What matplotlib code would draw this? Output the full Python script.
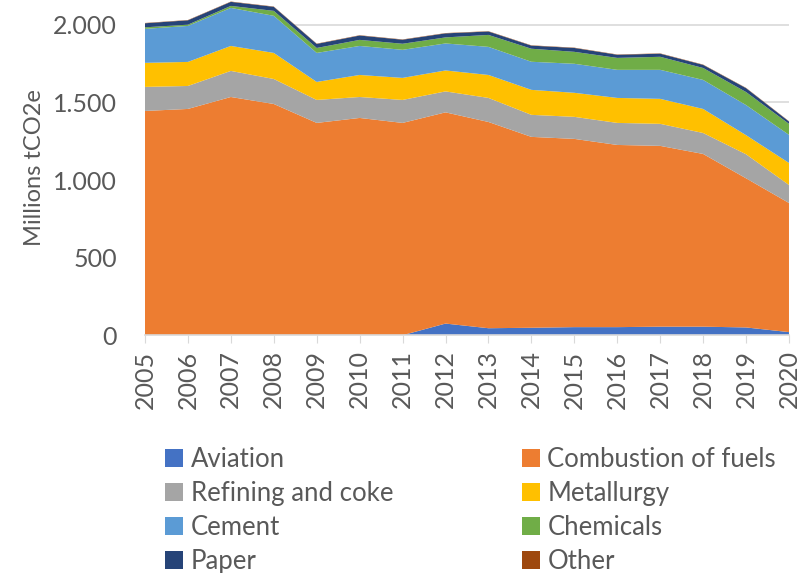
import matplotlib.pyplot as plt
from matplotlib.patches import Patch

plt.rcParams['font.family'] = ['Lato', 'DejaVu Sans']

years = list(range(2005, 2021))
aviation = [0, 0, 0, 0, 0, 0, 0, 75, 45, 48, 52, 52, 55, 55, 50, 20]
combustion = [1445, 1458, 1535, 1490, 1368, 1400, 1368, 1361, 1329, 1230, 1213, 1174, 1165, 1113, 961, 832]
refining = [155, 148, 168, 161, 148, 135, 148, 135, 155, 142, 142, 142, 142, 135, 155, 116]
metallurgy = [155, 155, 161, 168, 116, 142, 142, 135, 148, 161, 155, 161, 161, 155, 123, 142]
cement = [219, 232, 245, 239, 187, 187, 181, 174, 181, 181, 187, 181, 187, 187, 194, 181]
chemicals = [10, 8, 13, 32, 32, 39, 39, 39, 77, 84, 77, 77, 84, 77, 84, 71]
paper = [26, 28, 26, 26, 26, 28, 26, 26, 22, 20, 25, 20, 20, 20, 25, 15]
other = [2, 2, 2, 2, 2, 2, 2, 2, 2, 2, 2, 2, 2, 2, 2, 2]

labels = ['Aviation', 'Combustion of fuels', 'Refining and coke', 'Metallurgy',
          'Cement', 'Chemicals', 'Paper', 'Other']
colors = ['#4472C4', '#ED7D31', '#A5A5A5', '#FFC000',
          '#5B9BD5', '#70AD47', '#264478', '#9E480E']

fig = plt.figure(figsize=(8.01, 5.73), dpi=100)
ax = fig.add_axes([0.181, 0.415, 0.804, 0.585])

ax.stackplot(years, aviation, combustion, refining, metallurgy, cement,
             chemicals, paper, other, colors=colors, linewidth=0, zorder=2)

ax.set_xlim(2005, 2020)
ax.set_ylim(0, 2160)
ax.set_yticks([0, 500, 1000, 1500, 2000])
ax.set_yticklabels(['0', '500', '1.000', '1.500', '2.000'])
ax.set_xticks(years)
ax.set_xticklabels([str(y) for y in years], rotation=90)
ax.tick_params(axis='y', length=0, labelsize=18, labelcolor='#595959', pad=20)
ax.tick_params(axis='x', length=6, color='#D9D9D9', labelsize=18, labelcolor='#595959', pad=5)
ax.grid(axis='y', color='#D9D9D9', linewidth=1.2, zorder=0)
ax.set_axisbelow(True)
for s in ['top', 'right', 'left']:
    ax.spines[s].set_visible(False)
ax.spines['bottom'].set_color('#D9D9D9')
ax.spines['bottom'].set_linewidth(1.2)
ax.set_ylabel('Millions tCO2e', fontsize=17, color='#595959', labelpad=6)

# legend: two columns, filled column by column
order = [0, 2, 4, 6, 1, 3, 5, 7]
handles = [Patch(facecolor=colors[i], label=labels[i]) for i in order]
fig.legend(handles=handles, ncol=2, loc='upper left', bbox_to_anchor=(0.177, 0.26),
           frameon=False, fontsize=18.5, handlelength=0.7, handleheight=0.7,
           handletextpad=0.3, columnspacing=5.0, labelspacing=0.35,
           labelcolor='#595959')

fig.savefig('out.png', dpi=100)
